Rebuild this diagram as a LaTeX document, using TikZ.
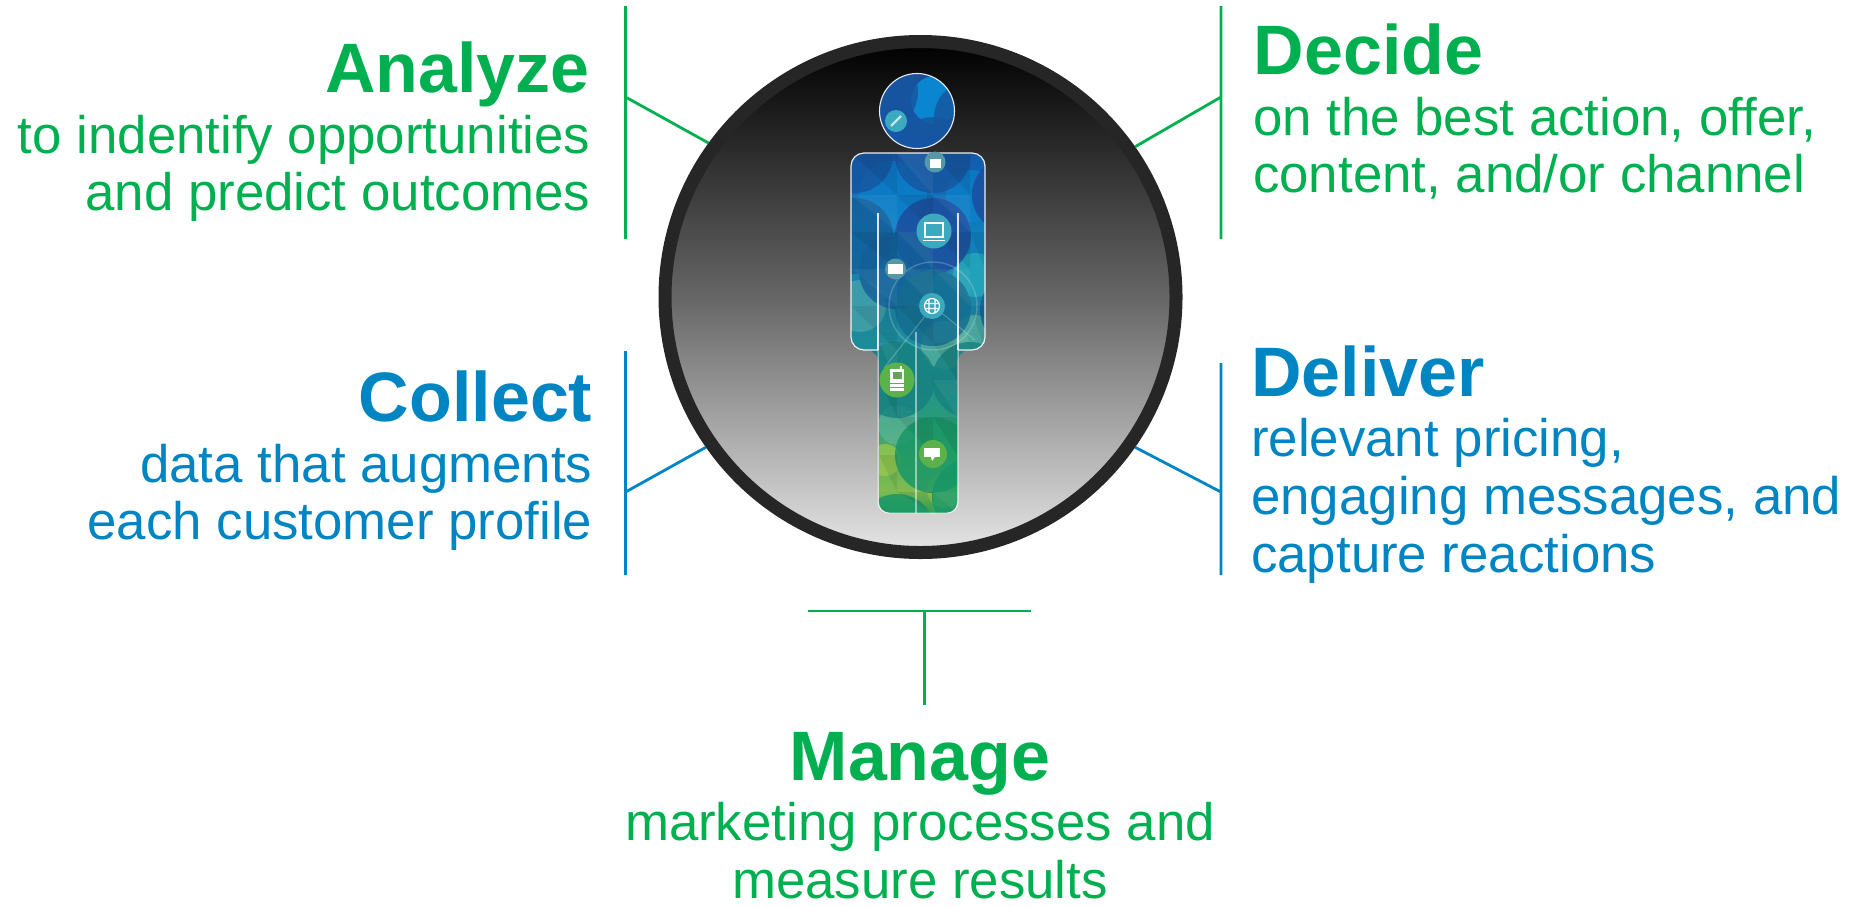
\documentclass[tikz,border=0pt]{standalone}
\usepackage{fontspec}
\setmainfont{Liberation Sans}
\definecolor{cgreen}{HTML}{00B050}
\definecolor{cblue}{HTML}{0085C3}
\definecolor{ring}{HTML}{262626}
\definecolor{p0}{HTML}{1D4C9C}\definecolor{p1}{HTML}{1259AB}\definecolor{p2}{HTML}{0E7FBD}
\definecolor{p3}{HTML}{1A85A8}\definecolor{p4}{HTML}{1F9090}\definecolor{p5}{HTML}{2A9C78}
\definecolor{p6}{HTML}{5FB058}\definecolor{p7}{HTML}{80BC50}\definecolor{p8}{HTML}{1CA35F}
\definecolor{dk0}{HTML}{1D4A9C}\definecolor{dk1}{HTML}{17559F}\definecolor{dk2}{HTML}{135E98}
\definecolor{dk3}{HTML}{146C8F}\definecolor{dk4}{HTML}{168080}\definecolor{dk5}{HTML}{169568}
\definecolor{st0}{HTML}{0A85D0}\definecolor{st1}{HTML}{55AAAA}\definecolor{st2}{HTML}{66B89F}
\definecolor{st3}{HTML}{2AB6C0}\definecolor{st4}{HTML}{A8CF4A}
\definecolor{teal}{HTML}{3BA9BE}\definecolor{lime}{HTML}{5BB14A}
\pgfdeclareverticalshading{personfill}{100bp}{color(0bp)=(p8); color(25bp)=(p8); color(28.3bp)=(p7); color(31.7bp)=(p6); color(36bp)=(p5); color(41.7bp)=(p4); color(49.4bp)=(p3); color(57bp)=(p2); color(66bp)=(p1); color(75bp)=(p0); color(100bp)=(p0)}
\tikzset{
  title/.style={font=\fontsize{70}{70}\selectfont\bfseries,inner sep=0pt},
  body/.style={font=\fontsize{52.8}{57.5}\selectfont,inner sep=0pt},
  bar/.style={line width=2.8pt},
  disc/.style={circle,draw=ring,line width=13pt,minimum size=511pt,inner sep=0pt,top color=black,bottom color=black!10,middle color=black!60},
  wline/.style={white,opacity=.85,line width=1.5pt},
  wfaint/.style={white,opacity=.5,line width=2.4pt},
}
\begin{document}
\begin{tikzpicture}[x=1pt,y=-1pt]
\useasboundingbox (0,0) rectangle (1854,906);
\node[disc] (disc) at (920.5,297) {};
% person
\begin{scope}
\clip (917,111) circle (37.5pt)
  [rounded corners=13pt] (851,153) -- (985,153) -- (985,350) -- (957,350) [rounded corners=11pt] -- (957,513) -- (879,513) [rounded corners=13pt] -- (879,350) -- (851,350) -- cycle;
\shade[shading=personfill] (840,70) rectangle (995,520);
% bright stars behind the discs
\fill[st0] (935,100) circle (24pt);
\foreach \cx/\cy/\col/\r in {893/195/st0/34, 972/196/st0/26, 860/306/st1/26, 945/345/st2/24, 975/275/st3/22, 975/335/st2/20, 898/425/st2/20, 945/490/st4/18, 885/460/st4/16}
  \fill[\col,opacity=.6] (\cx,\cy) circle (\r pt);
% large discs of the pattern
\foreach \cx/\cy/\col in {
  880/92/dk1, 972/118/dk1, 855/155/dk1, 933/155/dk1, 1010/195/dk0, 933/236/dk0,
  855/236/dk2, 897/271/dk2, 933/308/dk3, 1018/310/dk2, 897/380/dk4, 970/380/dk4,
  933/455/dk5, 970/497/dk5, 897/532/dk5}
  \fill[\col,opacity=.8] (\cx,\cy) circle (38pt);
% facets
\foreach \x/\y/\dx/\dy in {851/153/46/42,897/195/36/37,933/153/37/42,970/232/15/37,851/232/46/37,933/232/37/37,897/306/36/37,851/306/46/44,970/306/15/44,933/343/24/37,879/380/18/37,897/417/36/38,933/417/24/38,879/455/18/37,897/492/36/21}
  \fill[black,opacity=.07] (\x,\y) -- ++(\dx,0) -- ++(0,\dy) -- cycle;
\foreach \x/\y/\dx/\dy in {897/153/36/42,851/195/46/37,933/195/37/37,897/232/36/37,897/269/36/37,933/269/37/37,851/269/46/37,879/343/18/37,933/380/24/37,933/492/24/21}
  \fill[white,opacity=.05] (\x,\y) -- ++(\dx,0) -- ++(0,\dy) -- cycle;
\draw[white,opacity=.2,line width=1.4pt] (933,306) circle (44pt);
\draw[white,opacity=.25,line width=1pt] (933,306) -- (884,368) (933,306) -- (975,340);
\draw[wfaint] (916,332) -- (916,513);
\draw[wline] (878,213) -- (878,350) (958,213) -- (958,350);
\end{scope}
% outline
\draw[white,opacity=.9,line width=1.1pt] (917,111) circle (37.5pt);
\draw[white,opacity=.9,line width=1.2pt,rounded corners=13pt] (878,350) -- (851,350) -- (851,153) -- (985,153) -- (985,350) -- (958,350);
\draw[white,opacity=.7,line width=1pt,rounded corners=11pt] (958,350) -- (958,513) -- (878,513) -- (878,350);
% icons
\fill[teal] (896,121) circle (11pt);
\draw[white,opacity=.7,line width=2.2pt] (891,126) -- (901,116);
\fill[teal!60!gray] (935,162) circle (10.5pt);
\fill[white] (930,159) rectangle (941,168);
\fill[teal] (934,231) circle (17.5pt);
\draw[white,line width=1.4pt] (925,223) rectangle (943,237);
\draw[white,line width=1.8pt] (923,240.5) -- (945,240.5);
\fill[teal!60!gray] (895.5,269) circle (10.5pt);
\fill[white] (888,264) rectangle (903,274);
\fill[teal] (932,306) circle (13pt);
\draw[white,line width=1.2pt] (932,306) circle (7.5pt) (925,303.5) -- (939,303.5) (925,308.5) -- (939,308.5) (929,299) -- (929,313) (935,299) -- (935,313);
\fill[lime] (897,380) circle (17.5pt);
\draw[white,line width=1.4pt] (901,366) -- (901,370);
\fill[white] (890,369) rectangle (904,391);
\fill[lime!70!gray] (892.5,372) rectangle (901.5,378.5);
\draw[lime,line width=.8pt] (890,383) -- (904,383) (890,387) -- (904,387);
\fill[lime] (933,454) circle (14pt);
\fill[white] (924,448) rectangle (940,457);
\fill[white] (931,457) -- (935,457) -- (932,461) -- cycle;
% text
\node[title,text=cgreen,anchor=base east] (analyzeT) at (590,92) {Analyze};
\node[body,text=cgreen,anchor=base east] (analyzeA) at (590.5,153.5) {to indentify opportunities};
\node[body,text=cgreen,anchor=base east] (analyzeB) at (590.5,210) {and predict outcomes};
\node[title,text=cblue,anchor=base east] (collectT) at (592.5,421) {Collect};
\node[body,text=cblue,anchor=base east] (collectA) at (592.5,482) {data that augments};
\node[body,text=cblue,anchor=base east] (collectB) at (592.5,539) {each customer profile};
\node[title,text=cgreen,anchor=base west] (decideT) at (1253.5,74.5) {Decide};
\node[body,text=cgreen,anchor=base west] (decideA) at (1253,135) {on the best action, offer,};
\node[body,text=cgreen,anchor=base west] (decideB) at (1253,192.5) {content, and/or channel};
\node[title,text=cblue,anchor=base west] (deliverT) at (1251,396) {Deliver};
\node[body,text=cblue,anchor=base west] (deliverA) at (1251,456) {relevant pricing,};
\node[body,text=cblue,anchor=base west] (deliverB) at (1251,514) {engaging messages, and};
\node[body,text=cblue,anchor=base west] (deliverC) at (1251,572) {capture reactions};
\node[title,text=cgreen,anchor=base] (manageT) at (920,780) {Manage};
\node[body,text=cgreen,anchor=base] (manageA) at (920,840) {marketing processes and};
\node[body,text=cgreen,anchor=base] (manageB) at (920,898) {measure results};
% connectors
\coordinate (atl) at (625.5,6); \coordinate (abl) at (625.5,239); \coordinate (amid) at (625.5,97);
\coordinate (ctl) at (625.5,351); \coordinate (cbl) at (625.5,575); \coordinate (cmid) at (625.5,492);
\coordinate (dtl) at (1221,6); \coordinate (dbl) at (1221,239); \coordinate (dmid) at (1221,97);
\coordinate (etl) at (1221,363); \coordinate (ebl) at (1221,575); \coordinate (emid) at (1221,492);
\coordinate (ml) at (807.5,611); \coordinate (mr) at (1031,611); \coordinate (mmid) at (924.6,611); \coordinate (mend) at (924.6,705);
\draw[bar,cgreen] (atl) -- (abl) (amid) -- (disc.144.4);
\draw[bar,cblue] (ctl) -- (cbl) (cmid) -- (disc.215);
\draw[bar,cgreen] (dtl) -- (dbl) (dmid) -- (disc.35.3);
\draw[bar,cblue] (etl) -- (ebl) (emid) -- (disc.325.6);
\draw[bar,cgreen] (ml) -- (mr) (mmid) -- (mend);
\end{tikzpicture}
\end{document}
